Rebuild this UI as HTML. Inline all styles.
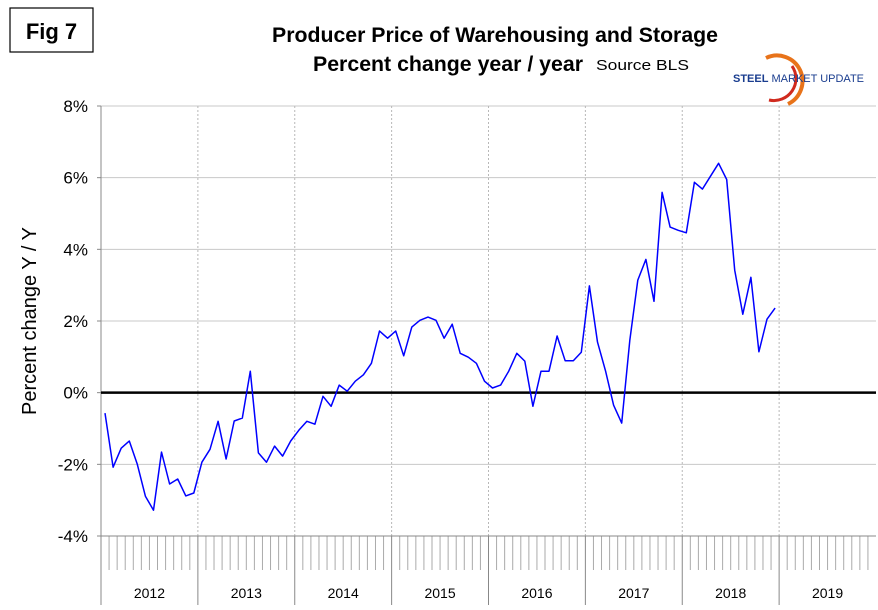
<!DOCTYPE html>
<html><head><meta charset="utf-8"><style>
html,body{margin:0;padding:0;background:#fff;}
svg{display:block;font-family:"Liberation Sans",Arial,sans-serif;}
</style></head><body>
<svg id="chart" width="878" height="610" viewBox="0 0 878 610" xmlns="http://www.w3.org/2000/svg">
<rect x="0" y="0" width="878" height="610" fill="#fff"/>
<rect x="10" y="8" width="83" height="44" fill="#fff" stroke="#000" stroke-width="1.2"/>
<text x="51.5" y="39" font-size="22" font-weight="bold" text-anchor="middle">Fig 7</text>
<text x="495" y="42" font-size="21" font-weight="bold" text-anchor="middle" textLength="446" lengthAdjust="spacingAndGlyphs">Producer Price of Warehousing and Storage</text>
<text x="313" y="71" font-size="21" font-weight="bold" textLength="270" lengthAdjust="spacingAndGlyphs">Percent change year / year</text>
<text x="596" y="70" font-size="15" textLength="93" lengthAdjust="spacingAndGlyphs">Source BLS</text>
<g>
<path d="M766 58 A22 22 0 0 1 788 104" fill="none" stroke="#e8731a" stroke-width="4"/>
<path d="M769 100 A22 22 0 0 0 792 66" fill="none" stroke="#d02a1e" stroke-width="3"/>
<text x="733" y="82" font-size="11" fill="#1a3d8f"><tspan font-weight="bold">STEEL</tspan> MARKET UPDATE</text>
</g>
<text transform="translate(36,321) rotate(-90)" font-size="20" text-anchor="middle">Percent change Y / Y</text>
<g id="grid"></g>
<g id="axes"></g>
<polyline id="series" fill="none" stroke="#0000ff" stroke-width="1.5" stroke-linejoin="round"/>
</svg>
<script>
const years = ["2012","2013","2014","2015","2016","2017","2018","2019"];
const yTicks = [-4,-2,0,2,4,6,8];
const yTickLabels = ["-4%","-2%","0%","2%","4%","6%","8%"];
const values = [
-0.57,-2.08,-1.55,-1.35,-2.0,-2.89,-3.28,-1.66,-2.55,-2.41,-2.88,-2.8,
-1.94,-1.58,-0.8,-1.85,-0.79,-0.71,0.6,-1.68,-1.94,-1.49,-1.77,-1.35,
-1.05,-0.8,-0.88,-0.1,-0.38,0.21,0.04,0.32,0.5,0.82,1.72,1.52,
1.72,1.03,1.83,2.02,2.11,2.02,1.52,1.91,1.1,0.99,0.82,0.32,
0.13,0.21,0.6,1.1,0.88,-0.38,0.6,0.6,1.58,0.89,0.89,1.13,
2.98,1.41,0.6,-0.35,-0.85,1.46,3.14,3.72,2.55,5.59,4.62,4.53,
4.46,5.87,5.68,6.04,6.4,5.95,3.42,2.19,3.22,1.14,2.05,2.36
];
const NS="http://www.w3.org/2000/svg";
const X0=101, X1=876, Y8=106, Ym4=536;
const months = years.length*12;
const mw=(X1-X0)/months;
function xm(i){return X0+(i+0.5)*mw;}
function xb(i){return X0+i*mw;}
function yv(v){return Ym4+(v+4)*(Y8-Ym4)/12;}
function mk(tag,attrs,parent){const e=document.createElementNS(NS,tag);for(const k in attrs)e.setAttribute(k,attrs[k]);parent.appendChild(e);return e;}
const grid=document.getElementById('grid'), axes=document.getElementById('axes');
yTicks.forEach((t,i)=>{
  if(t!==0 && t!==-4){
    const l=mk('line',{x1:X0,x2:X1,y1:yv(t),y2:yv(t),stroke:'#c8c8c8','stroke-width':1},grid);
    
    
  }
  const tk=mk('line',{x1:X0-4,x2:X0,y1:yv(t),y2:yv(t),stroke:'#888','stroke-width':1},axes);
  
  
  const tx=mk('text',{x:88,y:yv(t)+6,'font-size':17,'text-anchor':'end'},axes);
  tx.textContent=yTickLabels[i];
  
  
});
years.forEach((yr,i)=>{
  if(i>0){
    const g=mk('line',{x1:xb(i*12),x2:xb(i*12),y1:Y8,y2:Ym4,stroke:'#b8b8b8','stroke-width':1,'stroke-dasharray':'2,2'},grid);
    
    
  }
  const b=mk('line',{x1:xb(i*12),x2:xb(i*12),y1:Ym4,y2:605,stroke:'#888','stroke-width':1},axes);
  
  
  const t=mk('text',{x:xb(i*12+6),y:598,'font-size':14,'text-anchor':'middle'},axes);
  t.textContent=yr;
  
  
});
for(let m=1;m<=months;m++){
  if(m%12===0)continue;
  const l=mk('line',{x1:xb(m),x2:xb(m),y1:Ym4,y2:570,stroke:'#aaa','stroke-width':1},axes);
  
  
}
const yax=mk('line',{x1:X0,x2:X0,y1:Y8,y2:Ym4+1,stroke:'#888','stroke-width':1},axes);


const xax=mk('line',{x1:X0,x2:X1,y1:Ym4,y2:Ym4,stroke:'#888','stroke-width':1},axes);


const zl=mk('line',{x1:X0,x2:X1,y1:yv(0),y2:yv(0),stroke:'#000','stroke-width':2.5},axes);


document.getElementById('series').setAttribute('points',values.map((v,i)=>xm(i).toFixed(1)+','+yv(v).toFixed(1)).join(' '));
</script>
</body></html>
